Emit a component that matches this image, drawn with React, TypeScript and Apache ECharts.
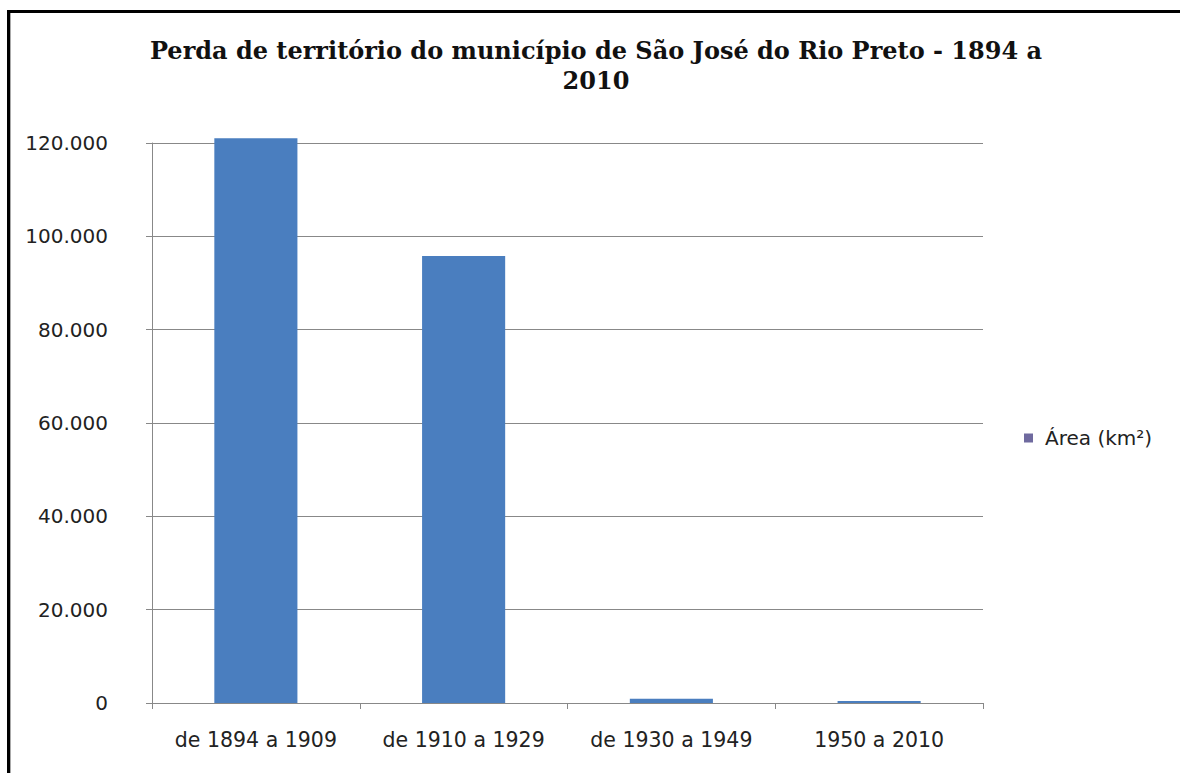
import React, { useEffect, useRef } from "react";
import * as echarts from "echarts";

const titleLines = ["Perda de território do município de São José do Rio Preto - 1894 a", "2010"];
const categories = ["de 1894 a 1909", "de 1910 a 1929", "de 1930 a 1949", "1950 a 2010"];
const seriesName = "Área (km²)";
const areaValues = [121000, 95800, 900, 450];
const yMin = 0;
const yMax = 120000;
const yInterval = 20000;

const fmt = (v: number) => {
  const s = Math.round(v).toString();
  return s.replace(/\B(?=(\d{3})+(?!\d))/g, ".");
};

export default function App() {
  const ref = useRef<HTMLDivElement>(null);
  useEffect(() => {
    if (!ref.current) return;
    const chart = echarts.init(ref.current, undefined, { renderer: "svg" });
    chart.setOption({
      animation: false,
      backgroundColor: "#ffffff",
      title: {
        text: titleLines.join("\n"),
        left: 591,
        textAlign: "center",
        top: 30,
        textStyle: {
          fontFamily: "DejaVu Serif",
          fontWeight: "bold",
          fontSize: 24,
          lineHeight: 30,
          color: "#111",
        },
      },
      legend: {
        orient: "vertical",
        left: 1019,
        top: 423,
        itemWidth: 9,
        itemHeight: 9,
        itemGap: 8,
        icon: "rect",
        data: [{ name: seriesName, itemStyle: { color: "#6f6a9f" } }],
        textStyle: { fontFamily: "DejaVu Sans", fontSize: 20, color: "#222", padding: [0, 0, 0, 7] },
      },
      grid: { left: 152, right: 197, top: 143, bottom: 70, containLabel: false },
      xAxis: {
        type: "category",
        data: categories,
        boundaryGap: true,
        axisLine: { lineStyle: { color: "#888", width: 1 } },
        axisTick: { show: true, alignWithLabel: false, length: 6, lineStyle: { color: "#888" } },
        axisLabel: { fontFamily: "DejaVu Sans", fontSize: 20.5, color: "#222", margin: 26, interval: 0 },
        splitLine: { show: false },
      },
      yAxis: {
        type: "value",
        min: yMin,
        max: yMax,
        interval: yInterval,
        axisLine: { show: true, lineStyle: { color: "#888", width: 1 } },
        axisTick: { show: true, length: 6, lineStyle: { color: "#888" } },
        axisLabel: { fontFamily: "DejaVu Sans", fontSize: 20, color: "#222", margin: 44, formatter: (v: number) => fmt(v) },
        splitLine: { show: true, lineStyle: { color: "#888", width: 1 } },
      },
      series: [
        {
          name: seriesName,
          type: "bar",
          data: areaValues,
          barWidth: "40%",
          clip: false,
          itemStyle: { color: "#4a7ebf" },
        },
      ],
      graphic: [
        { type: "rect", shape: { x: 7, y: 10, width: 1173, height: 3 }, style: { fill: "#000" }, z: 100 },
        { type: "rect", shape: { x: 7, y: 10, width: 3, height: 763 }, style: { fill: "#000" }, z: 100 },
        { type: "rect", shape: { x: 10, y: 13, width: 1, height: 760 }, style: { fill: "#aaa" }, z: 100 },
      ],
    });
    return () => chart.dispose();
  }, []);
  return <div ref={ref} style={{ position: "fixed", left: 0, top: 0, width: 1180, height: 773 }} />;
}
